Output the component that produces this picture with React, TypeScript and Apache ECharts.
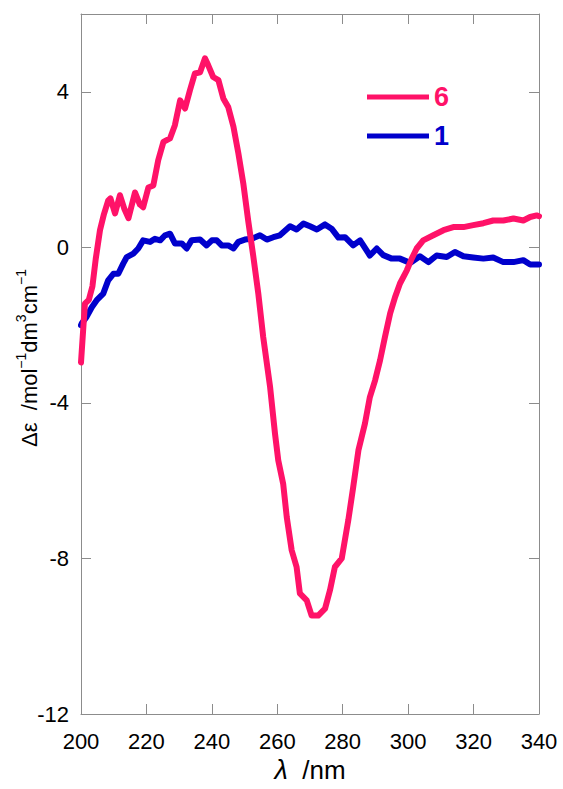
import React, { useEffect, useRef } from "react";
import * as echarts from "echarts";

const PINK = "#ff1268";
const BLUE = "#0000cc";

const seriesNames = ["6", "1"];

const x6 = [
  200, 200.6, 201.2, 202.4, 203.5, 204.5, 205.8, 207, 208.3, 209, 210.4, 211.9,
  213.2, 214.5, 216.5, 218, 219, 220.6, 222.1, 223.6, 225.2, 227.2, 228.7, 230.3,
  231.8, 233.3, 234.8, 236.4, 237.9, 238.9, 240.4, 242, 243.5, 245, 246.6, 248.1,
  249.6, 251.1, 252.7, 254.2, 255.7, 257.8, 259.3, 260.3, 261.8, 262.9, 264.4,
  265.9, 266.9, 269, 270.5, 272.5, 274.6, 276.1, 277.6, 279.7, 281.7, 283.2,
  284.8, 286.8, 288.3, 289.9, 291.4, 292.9, 294.5, 296, 297.5, 299.6, 301.1,
  302.6, 304.6, 307.7, 310.8, 313.8, 316.9, 319.9, 323, 326, 329.1, 332.2,
  335.2, 337.3, 339.3, 340,
];
const y6 = [
  -2.96, -2.2, -1.45, -1.35, -1.0, -0.3, 0.44, 0.85, 1.2, 1.26, 0.87, 1.34,
  1.0, 0.75, 1.41, 1.1, 1.03, 1.54, 1.59, 2.24, 2.71, 2.8, 3.14, 3.78,
  3.57, 4.04, 4.47, 4.5, 4.86, 4.68, 4.38, 4.3, 3.83, 3.61, 3.1, 2.42,
  1.65, 0.69, -0.25, -1.19, -2.31, -3.59, -4.79, -5.48, -6.08, -6.94, -7.79,
  -8.22, -8.9, -9.08, -9.47, -9.47, -9.29, -8.82, -8.22, -8.0, -7.02, -6.17,
  -5.22, -4.53, -3.85, -3.42, -2.91, -2.31, -1.7, -1.28, -0.93, -0.59, -0.29,
  -0.03, 0.18, 0.31, 0.44, 0.52, 0.52, 0.57, 0.62, 0.69, 0.69, 0.74,
  0.69, 0.78, 0.82, 0.8,
];

const x1 = [
  200, 200.2, 201.7, 203.3, 204.8, 206.8, 208.3, 209.9, 211.4, 212.9, 214, 216,
  217.5, 219, 221.1, 222.6, 224.2, 225.7, 227.2, 228.7, 230.8, 232.3, 233.8,
  236.4, 238.4, 240, 241.5, 243, 245, 246.6, 248.1, 250.1, 252.2, 254.7, 256.8,
  258.8, 260.8, 263.9, 265.9, 268, 270, 272.1, 274.6, 276.6, 278.7, 280.7,
  283.2, 285.3, 288.3, 290.4, 292.4, 295, 297.5, 300.6, 303.6, 306.2, 308.7,
  311.8, 314.3, 316.9, 319.9, 323, 326, 329.1, 332.2, 335.2, 337.3, 340,
];
const y1 = [
  -2.0, -1.96, -1.79, -1.54, -1.36, -1.19, -0.85, -0.68, -0.68, -0.42, -0.25, -0.16,
  -0.03, 0.18, 0.14, 0.22, 0.18, 0.31, 0.35, 0.1, 0.1, -0.03, 0.18,
  0.2, 0.05, 0.18, 0.18, 0.05, 0.05, -0.03, 0.14, 0.2, 0.22, 0.31, 0.2,
  0.26, 0.31, 0.54, 0.46, 0.61, 0.54, 0.46, 0.59, 0.48, 0.25, 0.26,
  0.05, 0.18, -0.21, -0.03, -0.2, -0.29, -0.29, -0.4, -0.23, -0.38, -0.21,
  -0.25, -0.12, -0.23, -0.26, -0.29, -0.26, -0.38, -0.38, -0.33, -0.44, -0.44,
];

const X_MIN = 200;
const X_MAX = 340;
const X_STEP = 20;
const Y_MIN = -12;
const Y_MAX = 6;
const Y_STEP = 4;

const FONT = "'Liberation Sans', Arial, Helvetica, sans-serif";
const AXIS_COLOR = "#8c8c8c";

const pairs = (xs: number[], ys: number[]) => xs.map((x, i) => [x, ys[i]]);

export default function App() {
  const ref = useRef<HTMLDivElement>(null);

  useEffect(() => {
    document.body.style.margin = "0";
    if (!ref.current) return;
    const chart = echarts.init(ref.current, undefined, { renderer: "svg" });

    const axisLine = { show: true, onZero: false, lineStyle: { color: AXIS_COLOR, width: 1 } };
    const axisTick = { show: true, inside: true, length: 10, lineStyle: { color: AXIS_COLOR, width: 1 } };

    chart.setOption({
      animation: false,
      backgroundColor: "#ffffff",
      grid: { left: 81, right: 24, top: 14, bottom: 75, containLabel: false },
      legend: {
        orient: "vertical",
        left: 367,
        top: 83,
        padding: 0,
        itemWidth: 62,
        itemHeight: 5,
        itemGap: 11,
        icon: "rect",
        textStyle: { fontSize: 27, fontWeight: "bold", fontFamily: FONT, lineHeight: 28 },
        data: [
          { name: seriesNames[0], textStyle: { color: PINK } },
          { name: seriesNames[1], textStyle: { color: BLUE } },
        ],
      },
      xAxis: [
        {
          type: "value",
          position: "bottom",
          min: X_MIN,
          max: X_MAX,
          interval: X_STEP,
          axisLine,
          axisTick,
          splitLine: { show: false },
          axisLabel: { color: "#000", fontSize: 22, fontFamily: FONT, margin: 16 },
          name: "{i|λ}{n|  /nm}",
          nameLocation: "middle",
          nameGap: 42,
          nameTextStyle: {
            rich: {
              i: { fontSize: 27, fontStyle: "italic", fontFamily: FONT, color: "#000" },
              n: { fontSize: 26, fontFamily: FONT, color: "#000" },
            },
          },
        },
        {
          type: "value",
          position: "top",
          min: X_MIN,
          max: X_MAX,
          interval: X_STEP,
          axisLine,
          axisTick,
          splitLine: { show: false },
          axisLabel: { show: false },
        },
      ],
      yAxis: [
        {
          type: "value",
          position: "left",
          min: Y_MIN,
          max: Y_MAX,
          interval: Y_STEP,
          axisLine,
          axisTick,
          splitLine: { show: false },
          axisLabel: {
            color: "#000",
            fontSize: 22,
            fontFamily: FONT,
            margin: 12,
            showMaxLabel: false,
          },
        },
        {
          type: "value",
          position: "right",
          min: Y_MIN,
          max: Y_MAX,
          interval: Y_STEP,
          axisLine,
          axisTick,
          splitLine: { show: false },
          axisLabel: { show: false },
        },
      ],
      graphic: [
        {
          type: "text",
          x: 29,
          y: 358,
          rotation: Math.PI / 2,
          style: {
            text: "{a|Δε  /mol}{s|−1}{a|dm}{s|3}{a|cm}{s|−1}",
            align: "center",
            verticalAlign: "middle",
            fill: "#000",
            rich: {
              a: { fontSize: 22, fontFamily: FONT, lineHeight: 30, fill: "#000" },
              s: { fontSize: 14, fontFamily: FONT, verticalAlign: "top", fill: "#000" },
            },
          },
        },
      ],
      series: [
        {
          name: seriesNames[1],
          type: "line",
          xAxisIndex: 0,
          yAxisIndex: 0,
          showSymbol: false,
          symbol: "none",
          color: BLUE,
          lineStyle: { width: 6, color: BLUE, join: "round", cap: "round" },
          data: pairs(x1, y1),
          z: 2,
        },
        {
          name: seriesNames[0],
          type: "line",
          xAxisIndex: 0,
          yAxisIndex: 0,
          showSymbol: false,
          symbol: "none",
          color: PINK,
          lineStyle: { width: 6, color: PINK, join: "round", cap: "round" },
          data: pairs(x6, y6),
          z: 3,
        },
      ],
    });

    return () => chart.dispose();
  }, []);

  return <div ref={ref} style={{ width: 563, height: 789 }} />;
}
